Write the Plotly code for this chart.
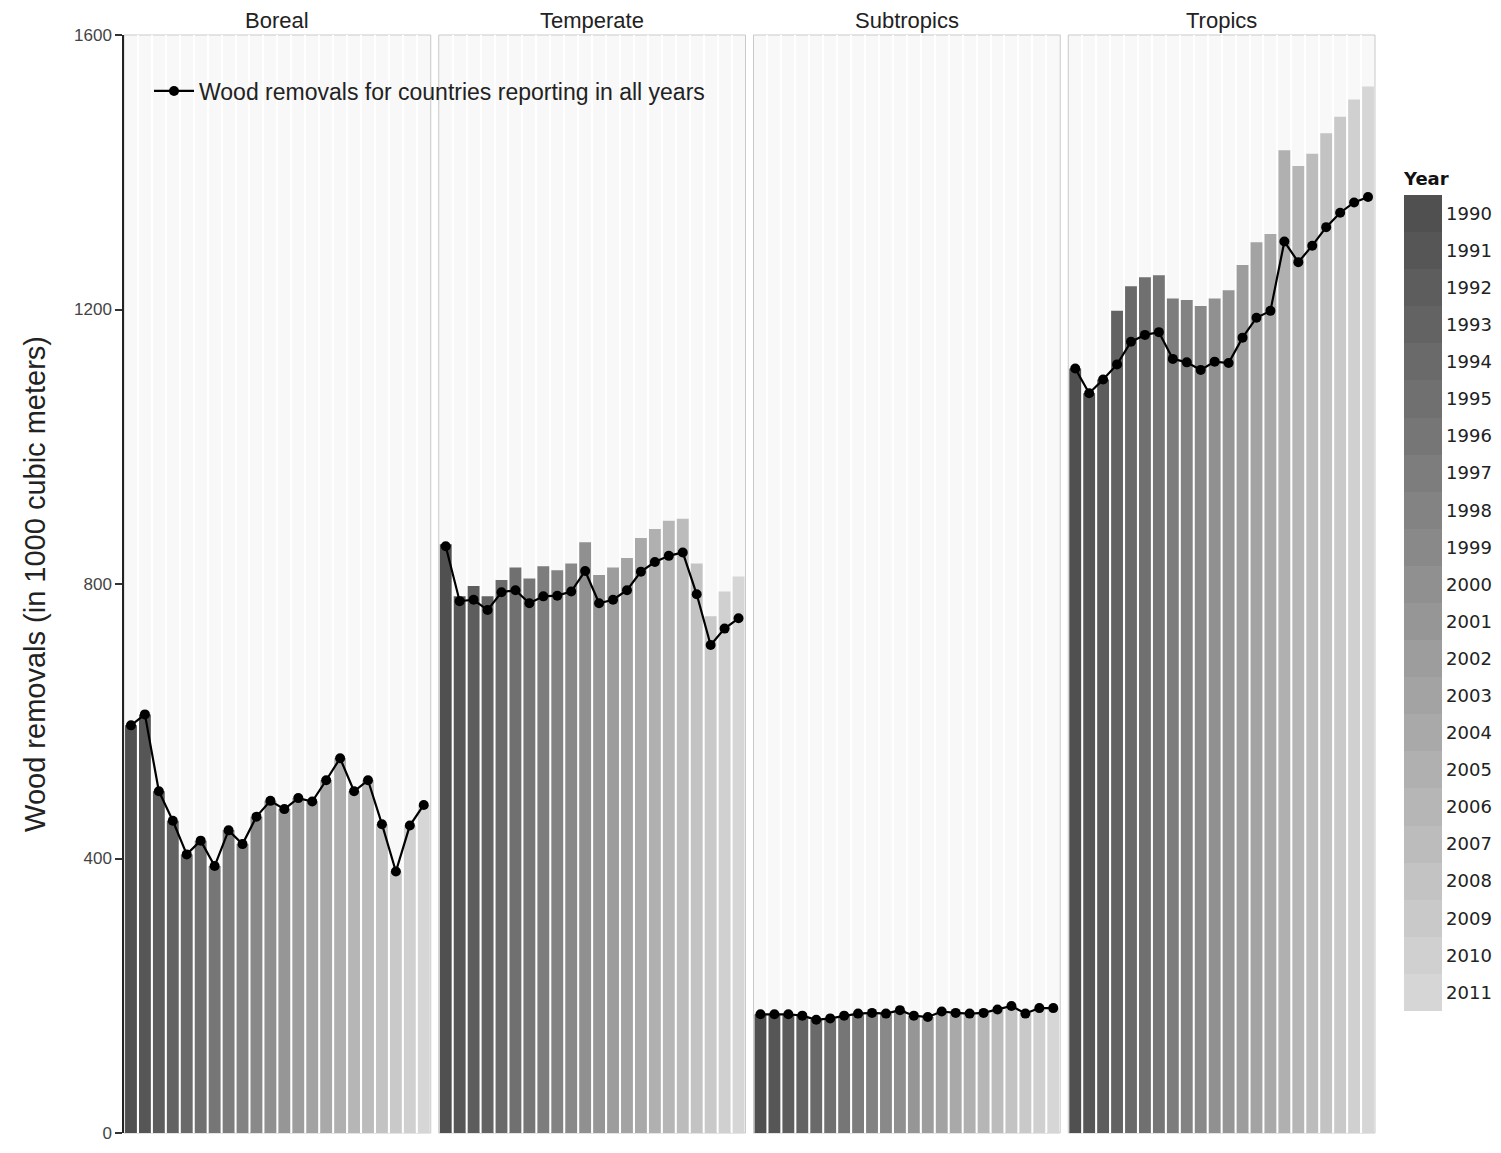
import plotly.graph_objects as go
from plotly.subplots import make_subplots

# Wood removals by climatic domain, 1990-2011 (1000 cubic meters)
years = list(range(1990, 2012))
domains = ["Boreal", "Temperate", "Subtropics", "Tropics"]

# Total removals (bars)
boreal_total = [594, 610, 498, 455, 406, 426, 389, 441, 421, 461, 484,
                472, 488, 483, 514, 546, 498, 514, 450, 381, 448, 478]
temperate_total = [858, 782, 797, 782, 806, 824, 808, 826, 820, 830, 861,
                   813, 824, 838, 867, 880, 892, 895, 830, 753, 789, 811]
subtropics_total = [173, 173, 173, 171, 165, 167, 171, 174, 175, 174, 179,
                    171, 169, 177, 175, 174, 175, 180, 185, 174, 182, 182]
tropics_total = [1114, 1078, 1098, 1198, 1234, 1247, 1250, 1216, 1214, 1205, 1216,
                 1228, 1265, 1298, 1310, 1432, 1409, 1427, 1457, 1481, 1506, 1525]

# Removals for countries reporting in all years (line)
boreal_constant = [594, 610, 498, 455, 406, 426, 389, 441, 421, 461, 484,
                   472, 488, 483, 514, 546, 498, 514, 450, 381, 448, 478]
temperate_constant = [855, 775, 777, 762, 788, 791, 772, 782, 783, 789, 819,
                      772, 777, 791, 818, 832, 841, 846, 785, 711, 735, 750]
subtropics_constant = [173, 173, 173, 171, 165, 167, 171, 174, 175, 174, 179,
                       171, 169, 177, 175, 174, 175, 180, 185, 174, 182, 182]
tropics_constant = [1114, 1078, 1098, 1120, 1153, 1163, 1167, 1128, 1123, 1112, 1124,
                    1122, 1159, 1188, 1198, 1299, 1269, 1293, 1320, 1341, 1356, 1364]

totals = [boreal_total, temperate_total, subtropics_total, tropics_total]
constants = [boreal_constant, temperate_constant, subtropics_constant, tropics_constant]

y_ticks = [0, 400, 800, 1200, 1600]
line_name = "Wood removals for countries reporting in all years"

# Colour key runs top-down from 1990, so the colour value is the negated year
year_key = [-y for y in years]

# Stepped grey scale, one shade per year (dark = early, light = late)
n = len(years)
dark, light = 80, 214
shades = [round(dark + (light - dark) * i / (n - 1)) for i in range(n)]
shades_low_to_high = shades[::-1]  # low colour value = latest year
colorscale = []
for i, s in enumerate(shades_low_to_high):
    c = f"rgb({s},{s},{s})"
    colorscale.append([i / n, c])
    colorscale.append([(i + 1) / n, c])

FONT = "Liberation Sans, Arial, sans-serif"
KEY_FONT = "DejaVu Sans, Verdana, sans-serif"

fig = make_subplots(rows=1, cols=4, shared_yaxes=True,
                    horizontal_spacing=0.0064, subplot_titles=domains)

idx = list(range(n))
for k in range(4):
    fig.add_trace(go.Bar(
        x=idx, y=totals[k], marker=dict(color=year_key, coloraxis="coloraxis",
                                        line=dict(width=0)),
        showlegend=False, hoverinfo="skip"), row=1, col=k + 1)
    fig.add_trace(go.Scatter(
        x=idx, y=constants[k], mode="lines+markers", name=line_name,
        line=dict(color="black", width=2.2),
        marker=dict(color="black", size=10),
        showlegend=(k == 0)), row=1, col=k + 1)

for k in range(4):
    fig.update_xaxes(range=[-0.5, n - 0.5], showticklabels=False, ticks="",
                     tick0=0.5, dtick=1, showgrid=True, gridcolor="white",
                     gridwidth=2, zeroline=False, showline=False, row=1, col=k + 1)
    fig.add_shape(type="rect", xref=f"x{'' if k == 0 else k + 1} domain",
                  yref="y domain", x0=0, x1=1, y0=0, y1=1,
                  line=dict(color="#c9c9c9", width=1), layer="below")

fig.update_yaxes(range=[0, 1600], tickvals=y_ticks, showgrid=False,
                 zeroline=False)
fig.update_yaxes(row=1, col=1, ticks="outside", ticklen=7, tickwidth=1.5,
                 tickcolor="#333", showline=True, linecolor="#222", linewidth=1.5,
                 tickfont=dict(size=17, color="#444", family=FONT),
                 title=dict(text="Wood removals (in 1000 cubic meters)",
                            font=dict(size=29, color="#222", family=FONT),
                            standoff=20))

for ann in fig.layout.annotations:
    ann.font = dict(size=22, color="#222", family=FONT)
    ann.yshift = 0

fig.update_layout(
    width=1501, height=1153,
    margin=dict(l=124, r=126, t=35, b=10),
    paper_bgcolor="white", plot_bgcolor="#f8f8f8",
    barmode="overlay", bargap=0.15,
    font=dict(family=FONT, color="#222"),
    coloraxis=dict(
        colorscale=colorscale, cmin=-years[-1] - 0.5, cmax=-years[0] + 0.5,
        colorbar=dict(
            title=dict(text="<b>Year</b>", side="top",
                       font=dict(size=18, color="#111", family=KEY_FONT)),
            tickvals=year_key, ticktext=[str(y) for y in years],
            ticks="", ticklen=0, outlinewidth=0,
            tickfont=dict(size=18, color="#222", family=KEY_FONT),
            thickness=38, lenmode="pixels", len=842,
            x=1.0232, xanchor="left", y=0.4946, yanchor="middle",
            xpad=0, ypad=0)),
    legend=dict(x=0.02, y=0.9686, xanchor="left", yanchor="top",
                bgcolor="rgba(0,0,0,0)", font=dict(size=23, color="#222", family=FONT),
                itemwidth=40),
)

fig.write_html("out.html")
